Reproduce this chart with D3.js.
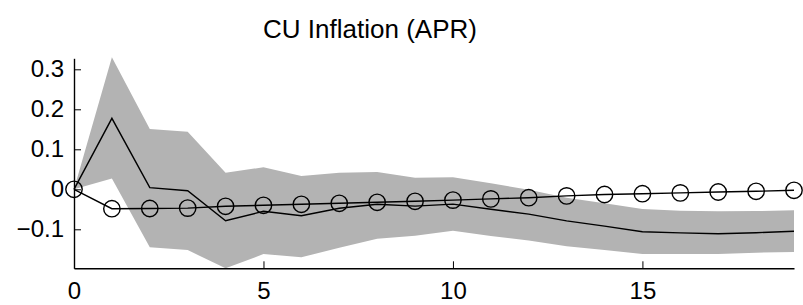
<!DOCTYPE html>
<html>
<head>
<meta charset="utf-8">
<script src="https://cdn.jsdelivr.net/npm/d3@7"></script>
<style>
  body { margin: 0; background: #fff; }
  svg { display: block; }
  text { font-family: "Liberation Sans", Arial, sans-serif; fill: #000; }
</style>
</head>
<body>
<svg id="chart" width="803" height="305"></svg>
<script>
const title = "CU Inflation (APR)";
const horizons = d3.range(0, 20);
const median = [0, 0.1775, 0.004, -0.0035, -0.0785, -0.055, -0.066, -0.0475, -0.0375, -0.042,
                -0.037, -0.05, -0.062, -0.079, -0.092, -0.106, -0.109, -0.111, -0.1085, -0.105];
const upper  = [0, 0.33, 0.151, 0.144, 0.0415, 0.055, 0.033, 0.0415, 0.043, 0.029,
                0.03, 0.015, -0.001, -0.021, -0.035, -0.049, -0.0535, -0.055, -0.0545, -0.0525];
const lower  = [0, 0.027, -0.145, -0.152, -0.1975, -0.162, -0.17, -0.146, -0.1235, -0.116,
                -0.1035, -0.117, -0.128, -0.1425, -0.152, -0.162, -0.162, -0.162, -0.1585, -0.157];
const circles = [0, -0.0485, -0.048, -0.047, -0.0425, -0.04, -0.0375, -0.035, -0.0325, -0.03,
                 -0.027, -0.024, -0.021, -0.0165, -0.013, -0.011, -0.009, -0.0068, -0.005, -0.0025];
const xTicks = [0, 5, 10, 15];
const yTicks = [-0.1, 0, 0.1, 0.2, 0.3];

const svg = d3.select("#chart");
const x = d3.scaleLinear().domain([0, 19]).range([74, 794]);
const y = d3.scaleLinear().domain([-0.1975, 0.3275]).range([268.3, 58.3]);

// band
svg.append("path")
  .datum(horizons)
  .attr("d", d3.area().x(i => x(i)).y0(i => y(lower[i])).y1(i => y(upper[i])))
  .attr("fill", "#b3b3b3");

// median line
svg.append("path")
  .datum(horizons)
  .attr("d", d3.line().x(i => x(i)).y(i => y(median[i])))
  .attr("fill", "none").attr("stroke", "#000").attr("stroke-width", 1.4);

// circles line
svg.append("path")
  .datum(horizons)
  .attr("d", d3.line().x(i => x(i)).y(i => y(circles[i])))
  .attr("fill", "none").attr("stroke", "#000").attr("stroke-width", 1.4);

svg.selectAll("circle.m").data(horizons).enter().append("circle")
  .attr("class", "m")
  .attr("cx", i => x(i)).attr("cy", i => y(circles[i])).attr("r", 8.2)
  .attr("fill", "none").attr("stroke", "#000").attr("stroke-width", 1.4);

// axes
const fmt = d => d === 0 ? "0" : d3.format(".1f")(d).replace("-", "\u2212");
const xAxis = d3.axisBottom(x).tickValues(xTicks).tickSizeInner(-7).tickSizeOuter(0).tickPadding(14).tickFormat(d3.format("d"));
const yAxis = d3.axisLeft(y).tickValues(yTicks).tickSizeInner(-7).tickSizeOuter(0).tickPadding(10).tickFormat(fmt);

const gx = svg.append("g").attr("transform", `translate(0,${y.range()[0]})`).call(xAxis);
const gy = svg.append("g").attr("transform", `translate(${x(0)},0)`).call(yAxis);
[gx, gy].forEach(g => {
  g.select(".domain").attr("stroke", "#000").attr("stroke-width", 1.4);
  g.selectAll(".tick line").attr("stroke", "#000").attr("stroke-width", 1);
  g.selectAll(".tick text").attr("font-size", 24).attr("font-family", "Liberation Sans, Arial, sans-serif").attr("fill", "#000");
});
gx.selectAll(".tick text").attr("dy", "0.71em");

svg.append("text")
  .attr("x", 370).attr("y", 38)
  .attr("text-anchor", "middle")
  .attr("font-size", 26)
  .text(title);
</script>
</body>
</html>
